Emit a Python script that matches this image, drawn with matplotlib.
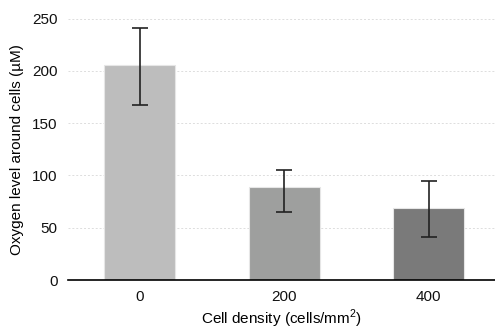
import matplotlib
matplotlib.use("Agg")
import matplotlib.pyplot as plt
import numpy as np

categories = ["0", "200", "400"]
values = [206, 89, 69]
err_low = [167, 65, 41]
err_high = [241, 105, 95]
colors = ["#bdbdbd", "#9e9f9e", "#7a7a7a"]

plt.rcParams['font.family'] = ['Liberation Sans', 'DejaVu Sans']
plt.rcParams['mathtext.fontset'] = 'custom'
plt.rcParams['mathtext.rm'] = 'Liberation Sans'

fig = plt.figure(figsize=(4.95, 3.3), dpi=100)
ax = fig.add_axes([67.5/495, 50/330, (495-67.5)/495, (280-18.5)/330])

x = np.arange(len(categories))
lower = [v - l for v, l in zip(values, err_low)]
upper = [h - v for v, h in zip(values, err_high)]
ax.bar(x, values, width=0.49, color=colors, edgecolor="#e6e6e6", linewidth=0.8, zorder=2)
ax.errorbar(x, values, yerr=[lower, upper], fmt="none", ecolor="#222222",
            elinewidth=1.2, capsize=5.5, capthick=1.2, zorder=3)

ax.set_xlim(-0.5, 2.46)
ax.set_ylim(0, 250)
ax.set_yticks([0, 50, 100, 150, 200, 250])
ax.set_xticks(x)
ax.set_xticklabels(categories)
ax.tick_params(axis="both", length=0, labelsize=11, colors="#111111")
ax.tick_params(axis="x", pad=7)
ax.tick_params(axis="y", pad=7)
ax.yaxis.grid(True, linestyle=(0, (2, 2)), color="#dddddd", linewidth=0.7, zorder=0)
ax.set_axisbelow(True)
for s in ["top", "right", "left"]:
    ax.spines[s].set_visible(False)
ax.spines["bottom"].set_color("#000000")
ax.spines["bottom"].set_linewidth(1.2)

ax.set_xlabel("Cell density (cells/mm$^{\\mathrm{2}}$)", fontsize=11, labelpad=3)
ax.set_ylabel("Oxygen level around cells (µM)", fontsize=11, labelpad=6)

fig.savefig("out.png", dpi=100)
